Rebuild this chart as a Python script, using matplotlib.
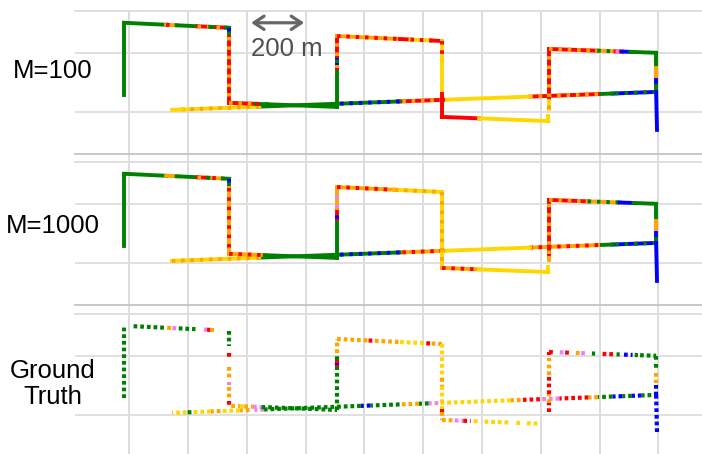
import numpy as np
import matplotlib.pyplot as plt

plt.rcParams['font.family'] = ['Liberation Sans', 'DejaVu Sans']

# route corners (m); grid lines every 200 m
edges = {
    "e1": ((-17, 58), (-17, 303)),
    "e2": ((-17, 303), (340, 286)),
    "e3": ((340, 286), (340, 31)),
    "e4": ((340, 31), (707, 17)),
    "e5": ((707, 17), (707, 258)),
    "e6": ((707, 258), (1064, 241)),
    "e7": ((1064, 241), (1064, -17)),
    "e8": ((1064, -17), (1425, -31)),
    "e9": ((1425, -31), (1425, -14)),
    "e10": ((1428, 10), (1428, 214)),
    "e11": ((1428, 214), (1792, 201)),
    "e12": ((1792, 201), (1792, 68)),
    "e13": ((1792, 68), (1795, -61)),
    "e14": ((1792, 68), (146, 7)),
}

palette = {"G": "#008000", "R": "#ff0000", "O": "#ffa500", "Y": "#ffd700",
           "B": "#0000ff", "V": "#ee82ee"}

# (edge, start fraction, end fraction, colour, speckle colour)
m100_runs = [
    ("e14", 0, .09, "B", "G"), ("e14", .09, .12, "G", None), ("e14", .12, .26, "R", "O"),
    ("e14", .26, .44, "Y", None), ("e14", .44, .53, "R", "O"), ("e14", .53, .66, "G", "B"),
    ("e14", .66, .82, "G", None), ("e14", .82, .98, "Y", "O"), ("e14", .98, 1, "Y", None),
    ("e1", 0, 1, "G", None),
    ("e2", 0, .40, "G", None), ("e2", .40, .50, "O", "R"), ("e2", .50, .70, "G", None),
    ("e2", .70, .82, "R", "O"), ("e2", .82, .88, "G", None), ("e2", .88, .97, "R", "O"),
    ("e2", .97, 1, "G", None),
    ("e3", 0, .12, "G", "B"), ("e3", .12, 1, "R", "O"),
    ("e4", 0, .25, "R", "O"), ("e4", .25, .35, "G", "R"), ("e4", .35, 1, "G", None),
    ("e5", 0, .55, "G", None), ("e5", .55, .62, "R", "O"), ("e5", .62, .72, "B", "G"),
    ("e5", .72, 1, "R", "O"),
    ("e6", 0, .6, "O", "R"), ("e6", .6, .7, "R", None), ("e6", .7, .9, "Y", "R"),
    ("e6", .9, 1, "R", None),
    ("e7", 0, .25, "Y", "R"), ("e7", .25, .7, "Y", None), ("e7", .7, 1, "R", None),
    ("e8", 0, .35, "R", None), ("e8", .35, 1, "Y", None),
    ("e9", 0, 1, "Y", None),
    ("e10", 0, .2, "Y", "O"), ("e10", .2, 1, "R", "O"),
    ("e11", 0, .45, "R", "O"), ("e11", .45, .62, "O", "G"), ("e11", .62, .68, "R", "V"),
    ("e11", .68, .76, "B", None), ("e11", .76, 1, "G", None),
    ("e12", 0, .4, "G", None), ("e12", .4, .7, "O", None), ("e12", .7, .85, "B", None),
    ("e12", .85, 1, "G", None),
    ("e13", 0, 1, "B", None),
]

m1000_runs = [
    ("e14", 0, .09, "B", "G"), ("e14", .09, .12, "G", None), ("e14", .12, .26, "O", "R"),
    ("e14", .26, .44, "Y", None), ("e14", .44, .53, "O", "R"), ("e14", .53, .66, "G", "B"),
    ("e14", .66, .82, "G", None), ("e14", .82, 1, "Y", "O"),
    ("e1", 0, 1, "G", None),
    ("e2", 0, .40, "G", None), ("e2", .40, .50, "O", None), ("e2", .50, .70, "G", None),
    ("e2", .70, .80, "R", "O"), ("e2", .80, .84, "G", None), ("e2", .84, .94, "O", "R"),
    ("e2", .94, 1, "G", None),
    ("e3", 0, .12, "G", "B"), ("e3", .12, 1, "O", "R"),
    ("e4", 0, .33, "O", "R"), ("e4", .33, 1, "G", None),
    ("e5", 0, .55, "G", None), ("e5", .55, .7, "R", "B"), ("e5", .7, 1, "O", "V"),
    ("e6", 0, .55, "O", "R"), ("e6", .55, 1, "Y", "O"),
    ("e7", 0, 1, "Y", "O"),
    ("e8", 0, .35, "O", "R"), ("e8", .35, 1, "Y", None),
    ("e9", 0, 1, "Y", None),
    ("e10", 0, .1, "O", None), ("e10", .1, 1, "R", "O"),
    ("e11", 0, .36, "R", "O"), ("e11", .36, .66, "O", "G"), ("e11", .66, .79, "B", None),
    ("e11", .79, 1, "G", None),
    ("e12", 0, .44, "G", None), ("e12", .44, .74, "O", None), ("e12", .74, .9, "B", None),
    ("e12", .9, 1, "G", None),
    ("e13", 0, 1, "B", None),
]

truth_runs = [
    ("e14", .01, .03, "G", None), ("e14", .03, .05, "B", None), ("e14", .05, .07, "G", None),
    ("e14", .07, .09, "B", None), ("e14", .09, .12, "G", None), ("e14", .12, .14, "O", None),
    ("e14", .14, .2, "R", None), ("e14", .2, .24, "V", None), ("e14", .24, .28, "R", None),
    ("e14", .28, .3, "O", None), ("e14", .3, .45, "Y", None), ("e14", .45, .47, "V", None),
    ("e14", .47, .49, "G", None), ("e14", .49, .53, "O", None), ("e14", .53, .59, "G", None),
    ("e14", .59, .61, "B", None), ("e14", .61, .81, "G", None), ("e14", .81, .83, "V", None),
    ("e14", .84, .86, "O", None), ("e14", .86, .9, "Y", None), ("e14", .9, .92, "O", None),
    ("e14", .92, .96, "Y", None), ("e14", .96, .97, "G", None), ("e14", .97, 1, "Y", None),
    ("e1", 0, 1, "G", None),
    ("e2", .09, .40, "G", None), ("e2", .41, .45, "O", None), ("e2", .46, .50, "V", None),
    ("e2", .52, .68, "G", None), ("e2", .76, .79, "V", None), ("e2", .79, .82, "R", None),
    ("e2", .82, .86, "O", None),
    ("e3", 0, .2, "G", None), ("e3", .3, .35, "R", None), ("e3", .48, .65, "O", None),
    ("e3", .68, .72, "V", None), ("e3", .75, .92, "O", None), ("e3", .94, 1, "R", None),
    ("e4", .02, .1, "O", None), ("e4", .1, .14, "Y", None), ("e4", .14, .22, "O", None),
    ("e4", .22, .3, "V", None), ("e4", .3, 1, "G", None),
    ("e5", 0, .6, "G", None), ("e5", .6, .64, "R", None), ("e5", .64, .66, "B", None),
    ("e5", .66, .7, "R", None), ("e5", .7, .78, "G", None), ("e5", .8, 1, "O", None),
    ("e6", 0, .3, "O", None), ("e6", .3, .36, "R", None), ("e6", .36, .6, "O", None),
    ("e6", .6, .85, "Y", None), ("e6", .85, .9, "R", None), ("e6", .9, 1, "O", None),
    ("e7", 0, .45, "Y", None), ("e7", .45, .55, "O", None), ("e7", .55, .85, "Y", None),
    ("e7", .85, .9, "R", None), ("e7", .9, 1, "O", None),
    ("e8", 0, .12, "O", None), ("e8", .12, .2, "V", None), ("e8", .2, .27, "R", None),
    ("e8", .3, .36, "Y", None), ("e8", .4, .65, "Y", None), ("e8", .7, .75, "Y", None),
    ("e8", .8, .9, "Y", None),
    ("e10", 0, .15, "R", None), ("e10", .15, .3, "O", None), ("e10", .3, .6, "R", None),
    ("e10", .62, .8, "O", None), ("e10", .85, .9, "O", None), ("e10", .95, 1, "R", None),
    ("e11", 0, .05, "R", None), ("e11", .1, .15, "V", None), ("e11", .15, .2, "R", None),
    ("e11", .25, .3, "O", None), ("e11", .3, .34, "V", None), ("e11", .4, .43, "G", None),
    ("e11", .5, .6, "R", None), ("e11", .63, .66, "G", None), ("e11", .7, .78, "B", None),
    ("e11", .8, .83, "G", None), ("e11", .85, 1, "G", None),
    ("e12", 0, .14, "G", None), ("e12", .22, .32, "G", None), ("e12", .44, .7, "O", None),
    ("e12", .74, 1, "B", None),
    ("e13", 0, 1, "B", None),
]

panel_labels = ["M=100", "M=1000", "Ground\nTruth"]
label_y_px = [71, 226, 384]


def draw_runs(ax, runs, dotted=False):
    for edge, f0, f1, c1, c2 in runs:
        (x0, y0), (x1, y1) = edges[edge]
        xs = [x0 + f0 * (x1 - x0), x0 + f1 * (x1 - x0)]
        ys = [y0 + f0 * (y1 - y0), y0 + f1 * (y1 - y0)]
        if dotted:
            ax.plot(xs, ys, color=palette[c1], lw=3.0, ls=(0, (0.9, 0.7)),
                    dash_capstyle='butt', zorder=3)
        else:
            ax.plot(xs, ys, color=palette[c1], lw=2.8,
                    solid_capstyle='projecting', zorder=3)
            if c2:
                ax.plot(xs, ys, color=palette[c2], lw=2.8, ls=(0, (0.9, 1.5)),
                        dash_capstyle='butt', zorder=3)


W, H = 702, 454
fig = plt.figure(figsize=(W / 100, H / 100), dpi=100)

xlim = (-184, 1948)
ylim = (-143, 343)
left, width = 75 / W, 627 / W

# vertical grid lines also run through the gaps between panels
bg = fig.add_axes([left, 0, width, 1 - 11 / H])
bg.set_xlim(xlim)
bg.set_xticks(np.arange(0, 1801, 200))
bg.set_yticks([])
bg.tick_params(length=0, labelbottom=False)
bg.grid(True, axis='x', color='#dddddd', lw=1.3)
for s in bg.spines.values():
    s.set_visible(False)
bg.patch.set_visible(False)

tops = [11, 162, 314]
axes = []
for top in tops:
    ax = fig.add_axes([left, 1 - (top + 143) / H, width, 143 / H])
    ax.set_xlim(xlim)
    ax.set_ylim(ylim)
    ax.set_xticks(np.arange(0, 1801, 200))
    ax.set_yticks([0, 200])
    ax.tick_params(length=0, labelbottom=False, labelleft=False)
    ax.grid(True, color='#dddddd', lw=1.3)
    ax.set_axisbelow(True)
    ax.spines['left'].set_visible(False)
    ax.spines['right'].set_visible(False)
    ax.spines['top'].set_color('#dddddd')
    ax.spines['top'].set_linewidth(1.3)
    ax.spines['bottom'].set_color('#c4c4c4')
    ax.spines['bottom'].set_linewidth(1.3)
    ax.patch.set_visible(False)
    axes.append(ax)

draw_runs(axes[0], m100_runs)
draw_runs(axes[1], m1000_runs)
draw_runs(axes[2], truth_runs, dotted=True)

for lab, ypx in zip(panel_labels, label_y_px):
    fig.text(53 / W, 1 - ypx / H, lab, ha='center', va='center',
             fontsize=18.5, color='black', linespacing=1.15)

# scale bar
axes[0].annotate("", xy=(415, 303), xytext=(595, 303),
                 arrowprops=dict(arrowstyle='<->, head_length=0.45, head_width=0.3',
                                 color='#666666', lw=2.3, mutation_scale=16,
                                 shrinkA=0, shrinkB=0))
axes[0].text(413, 215, "200 m", ha='left', va='center', fontsize=18.5, color='#505050')

fig.savefig("out.png", dpi=100)
